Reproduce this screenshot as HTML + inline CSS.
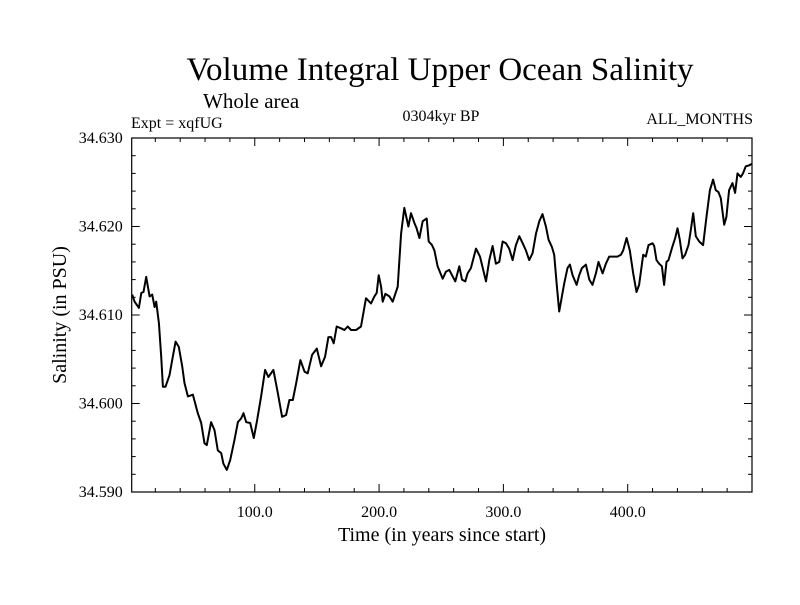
<!DOCTYPE html>
<html><head><meta charset="utf-8"><style>
body{margin:0;background:#fff;}
svg text{font-family:"Liberation Serif",serif;fill:#000;}
</style></head><body>
<svg id="chart" width="800" height="600" xmlns="http://www.w3.org/2000/svg">
<text x="440" y="80" font-size="33" text-anchor="middle">Volume Integral Upper Ocean Salinity</text>
<text x="203" y="108" font-size="21">Whole area</text>
<text x="131" y="128" font-size="16">Expt = xqfUG</text>
<text x="441" y="121" font-size="16" text-anchor="middle">0304kyr BP</text>
<text x="753" y="124" font-size="16" text-anchor="end">ALL_MONTHS</text>
<text x="442" y="541" font-size="20" text-anchor="middle">Time (in years since start)</text>
<text transform="translate(66,315) rotate(-90)" font-size="20" text-anchor="middle">Salinity (in PSU)</text>
<g id="axes"></g>
<path id="series" fill="none" stroke="#000" stroke-width="2" stroke-linejoin="round"/>
</svg>
<script>
const years = [1.4,3.3,6.8,8.7,10.5,12.7,15.4,17.5,19.4,20.7,22.9,24.7,26.1,28.2,31.4,33.6,36.3,38.9,41.6,43.5,46.2,50.2,54.2,56.9,59.6,61.4,64.9,67.6,70.3,73.0,74.8,77.5,80.2,83.7,86.4,89.0,90.9,93.1,96.3,99.2,101.9,105.1,108.3,111.0,115.0,118.5,122.0,125.2,127.9,130.6,133.3,136.7,140.0,142.6,146.1,149.9,153.4,156.6,159.2,161.4,163.5,165.9,169.4,172.1,174.8,177.5,181.5,185.5,189.5,193.5,196.2,198.1,199.7,201.6,202.9,205.1,208.3,211.0,215.0,217.7,220.3,223.6,225.7,228.4,230.2,232.4,235.1,238.3,239.9,242.6,244.5,247.1,251.2,253.8,256.5,258.7,261.3,264.5,266.7,269.4,271.2,273.9,278.0,281.2,286.0,288.7,291.3,294.0,296.7,299.4,302.1,304.7,307.4,310.1,312.8,315.5,318.1,320.8,323.5,326.2,328.9,331.5,334.2,336.4,339.0,340.9,342.8,344.9,347.1,349.0,351.6,353.5,355.7,358.9,361.0,363.2,366.4,369.1,371.7,374.4,376.5,379.8,382.5,385.1,388.3,391.8,394.5,396.4,399.1,401.7,404.4,407.1,409.2,412.5,414.6,416.7,420.0,421.3,423.2,425.3,427.5,429.3,431.2,432.8,435.5,438.2,440.1,441.9,444.1,446.2,448.9,450.8,452.7,454.8,457.5,460.7,463.4,466.1,468.7,470.9,473.0,474.9,477.6,479.4,481.6,484.3,486.4,488.3,491.0,492.8,495.0,497.7,500.0];
const salinity = [34.6123,34.6115,34.6108,34.6125,34.6126,34.6143,34.6121,34.6123,34.6109,34.6115,34.6091,34.6053,34.6019,34.6019,34.6032,34.6049,34.6070,34.6064,34.6042,34.6023,34.6008,34.6010,34.5989,34.5978,34.5955,34.5953,34.5979,34.5970,34.5947,34.5944,34.5932,34.5925,34.5936,34.5959,34.5979,34.5983,34.5989,34.5979,34.5978,34.5961,34.5981,34.6008,34.6038,34.6030,34.6038,34.6012,34.5985,34.5987,34.6004,34.6004,34.6023,34.6049,34.6036,34.6034,34.6055,34.6062,34.6042,34.6053,34.6075,34.6075,34.6068,34.6087,34.6085,34.6083,34.6087,34.6083,34.6083,34.6087,34.6119,34.6113,34.6121,34.6125,34.6145,34.6132,34.6115,34.6124,34.6121,34.6115,34.6132,34.6192,34.6221,34.6200,34.6215,34.6204,34.6198,34.6187,34.6206,34.6209,34.6183,34.6179,34.6173,34.6155,34.6141,34.6149,34.6151,34.6145,34.6138,34.6155,34.6140,34.6138,34.6147,34.6153,34.6175,34.6166,34.6138,34.6162,34.6178,34.6158,34.6160,34.6183,34.6181,34.6175,34.6162,34.6179,34.6189,34.6181,34.6173,34.6162,34.6170,34.6192,34.6206,34.6214,34.6200,34.6185,34.6177,34.6168,34.6136,34.6104,34.6121,34.6136,34.6153,34.6157,34.6145,34.6134,34.6145,34.6153,34.6157,34.6140,34.6134,34.6147,34.6160,34.6147,34.6158,34.6166,34.6166,34.6166,34.6168,34.6173,34.6187,34.6173,34.6147,34.6126,34.6134,34.6168,34.6166,34.6179,34.6181,34.6178,34.6162,34.6158,34.6155,34.6134,34.6160,34.6162,34.6175,34.6187,34.6198,34.6185,34.6164,34.6168,34.6179,34.6196,34.6215,34.6189,34.6183,34.6179,34.6211,34.6241,34.6253,34.6241,34.6239,34.6232,34.6202,34.6211,34.6241,34.6249,34.6238,34.6260,34.6256,34.6260,34.6268,34.6269,34.6271];
const xTickValues = [100,200,300,400];
const xTickLabels = ["100.0","200.0","300.0","400.0"];
const yTickValues = [34.590,34.600,34.610,34.620,34.630];
const yTickLabels = ["34.590","34.600","34.610","34.620","34.630"];
const xDomain = [1,500], yDomain = [34.590,34.630];
const L=131.7,R=752,T=138,B=492;
const sx = v => L + (v - xDomain[0]) / (xDomain[1] - xDomain[0]) * (R - L);
const sy = v => B - (v - yDomain[0]) / (yDomain[1] - yDomain[0]) * (B - T);
const NS="http://www.w3.org/2000/svg";
const axes=document.getElementById('axes');
function line(x1,y1,x2,y2,name){
  const l=document.createElementNS(NS,'line');
  l.setAttribute('x1',x1);l.setAttribute('y1',y1);l.setAttribute('x2',x2);l.setAttribute('y2',y2);
  l.setAttribute('stroke','#000');l.setAttribute('stroke-width','1');
  
  
  axes.appendChild(l);
}
function text(x,y,s,anchor,name){
  const t=document.createElementNS(NS,'text');
  t.setAttribute('x',x);t.setAttribute('y',y);t.setAttribute('font-size','16');t.setAttribute('text-anchor',anchor);
  t.textContent=s;
  
  
  axes.appendChild(t);
}
const frame=document.createElementNS(NS,'rect');
frame.setAttribute('x',L);frame.setAttribute('y',T);frame.setAttribute('width',R-L);frame.setAttribute('height',B-T);
frame.setAttribute('fill','none');frame.setAttribute('stroke','#000');frame.setAttribute('stroke-width','1.2');


axes.appendChild(frame);
for(let v=20; v<500; v+=20){
  const x=sx(v), major=(v%100===0), len=major?8:4;
  line(x,B,x,B-len,'x-tick');
  line(x,T,x,T+len,'x-tick-top');
}
xTickValues.forEach((v,i)=>text(sx(v),B+25,xTickLabels[i],'middle','x-tick-label'));
for(let k=0;k<=20;k++){
  const v=yDomain[0]+k*0.002, y=sy(v), major=(k%5===0), len=major?8:4;
  line(L,y,L+len,y,'y-tick');
  line(R,y,R-len,y,'y-tick-right');
}
yTickValues.forEach((v,i)=>text(L-9,sy(v)+5,yTickLabels[i],'end','y-tick-label'));
let d='';
years.forEach((yr,i)=>{ d+=(i?'L':'M')+sx(yr).toFixed(1)+','+sy(salinity[i]).toFixed(1); });
document.getElementById('series').setAttribute('d',d);
</script>
</body></html>
